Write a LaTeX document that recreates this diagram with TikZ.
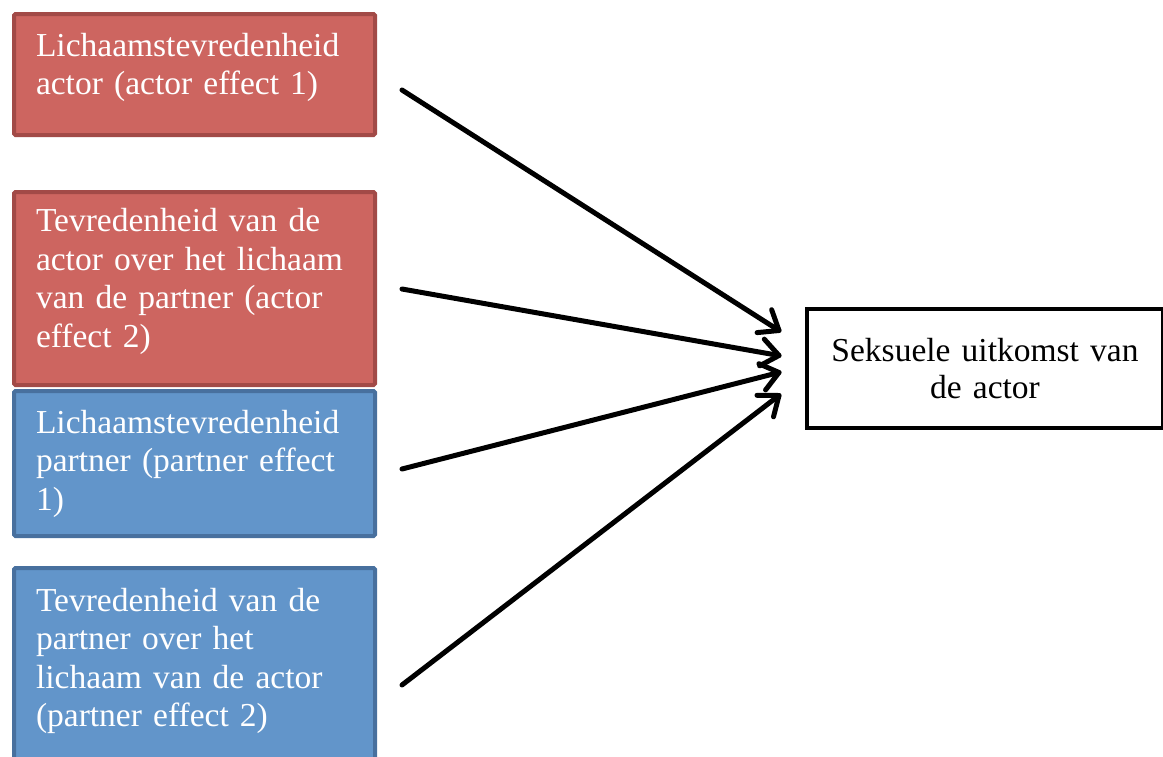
\documentclass[tikz,border=0pt]{standalone}
\usepackage{fontspec}
\setmainfont{Liberation Serif}
\usetikzlibrary{calc}
\definecolor{redfill}{RGB}{205,101,96}
\definecolor{redline}{RGB}{162,74,71}
\definecolor{bluefill}{RGB}{98,149,202}
\definecolor{blueline}{RGB}{72,112,158}
\tikzset{
  srcbox/.style={draw, line width=4pt, rounded corners=1.5pt, anchor=north west,
    minimum width=361pt, text width=317pt, inner xsep=22pt, align=left,
    text=white, font=\fontsize{33.5}{38.5}\selectfont},
  lift/.style={execute at end node={\par\vspace{#1}}},
  actorbox/.style={srcbox, fill=redfill, draw=redline},
  partnerbox/.style={srcbox, fill=bluefill, draw=blueline},
  outbox/.style={draw=black, fill=white, line width=4pt, anchor=north west,
    minimum width=356pt, minimum height=119pt, text width=340pt, inner xsep=8pt,
    align=center, font=\fontsize{33.5}{37}\selectfont},
  effect/.style={line width=5pt, line cap=round, line join=round}
}
\newcommand{\linkarrow}[2]{%
  \draw[effect] (#1) -- (#2);
  \draw[effect] ($(#2)!22pt!38:(#1)$) -- (#2) -- ($(#2)!22pt!-38:(#1)$);}
\begin{document}
\begin{tikzpicture}[x=1pt,y=-1pt]
\useasboundingbox (0,0) rectangle (1163,756);
\clip (0,0) rectangle (1163,756);
\node[actorbox, lift=14pt, minimum height=121pt] (b1) at (12,12)
  {Lichaamstevredenheid\\actor (actor effect 1)};
\node[actorbox, lift=14pt, minimum height=193pt] (b2) at (12,190)
  {Tevredenheid van de\\actor over het lichaam\\van de partner (actor\\effect 2)};
\node[partnerbox, minimum height=145pt] (b3) at (12,389)
  {Lichaamstevredenheid\\partner (partner effect\\1)};
\node[partnerbox, lift=14pt, minimum height=200pt] (b4) at (12,566)
  {Tevredenheid van de\\partner over het\\lichaam van de actor\\(partner effect 2)};
\node[outbox] (out) at (805,307) {Seksuele uitkomst van\\de actor};
\coordinate (s1) at ($(b1.east)+(25,15.5)$);
\coordinate (s2) at ($(b2.east)+(25,0.5)$);
\coordinate (s3) at ($(b3.east)+(25,5.5)$);
\coordinate (s4) at ($(b4.east)+(25,17)$);
\coordinate (e1) at ($(out.west)+(-26,-38)$);
\coordinate (e2) at ($(out.west)+(-26,-13)$);
\coordinate (e3) at ($(out.west)+(-26,4)$);
\coordinate (e4) at ($(out.west)+(-26,27)$);
\linkarrow{s1}{e1}
\linkarrow{s2}{e2}
\linkarrow{s3}{e3}
\linkarrow{s4}{e4}
\end{tikzpicture}
\end{document}
